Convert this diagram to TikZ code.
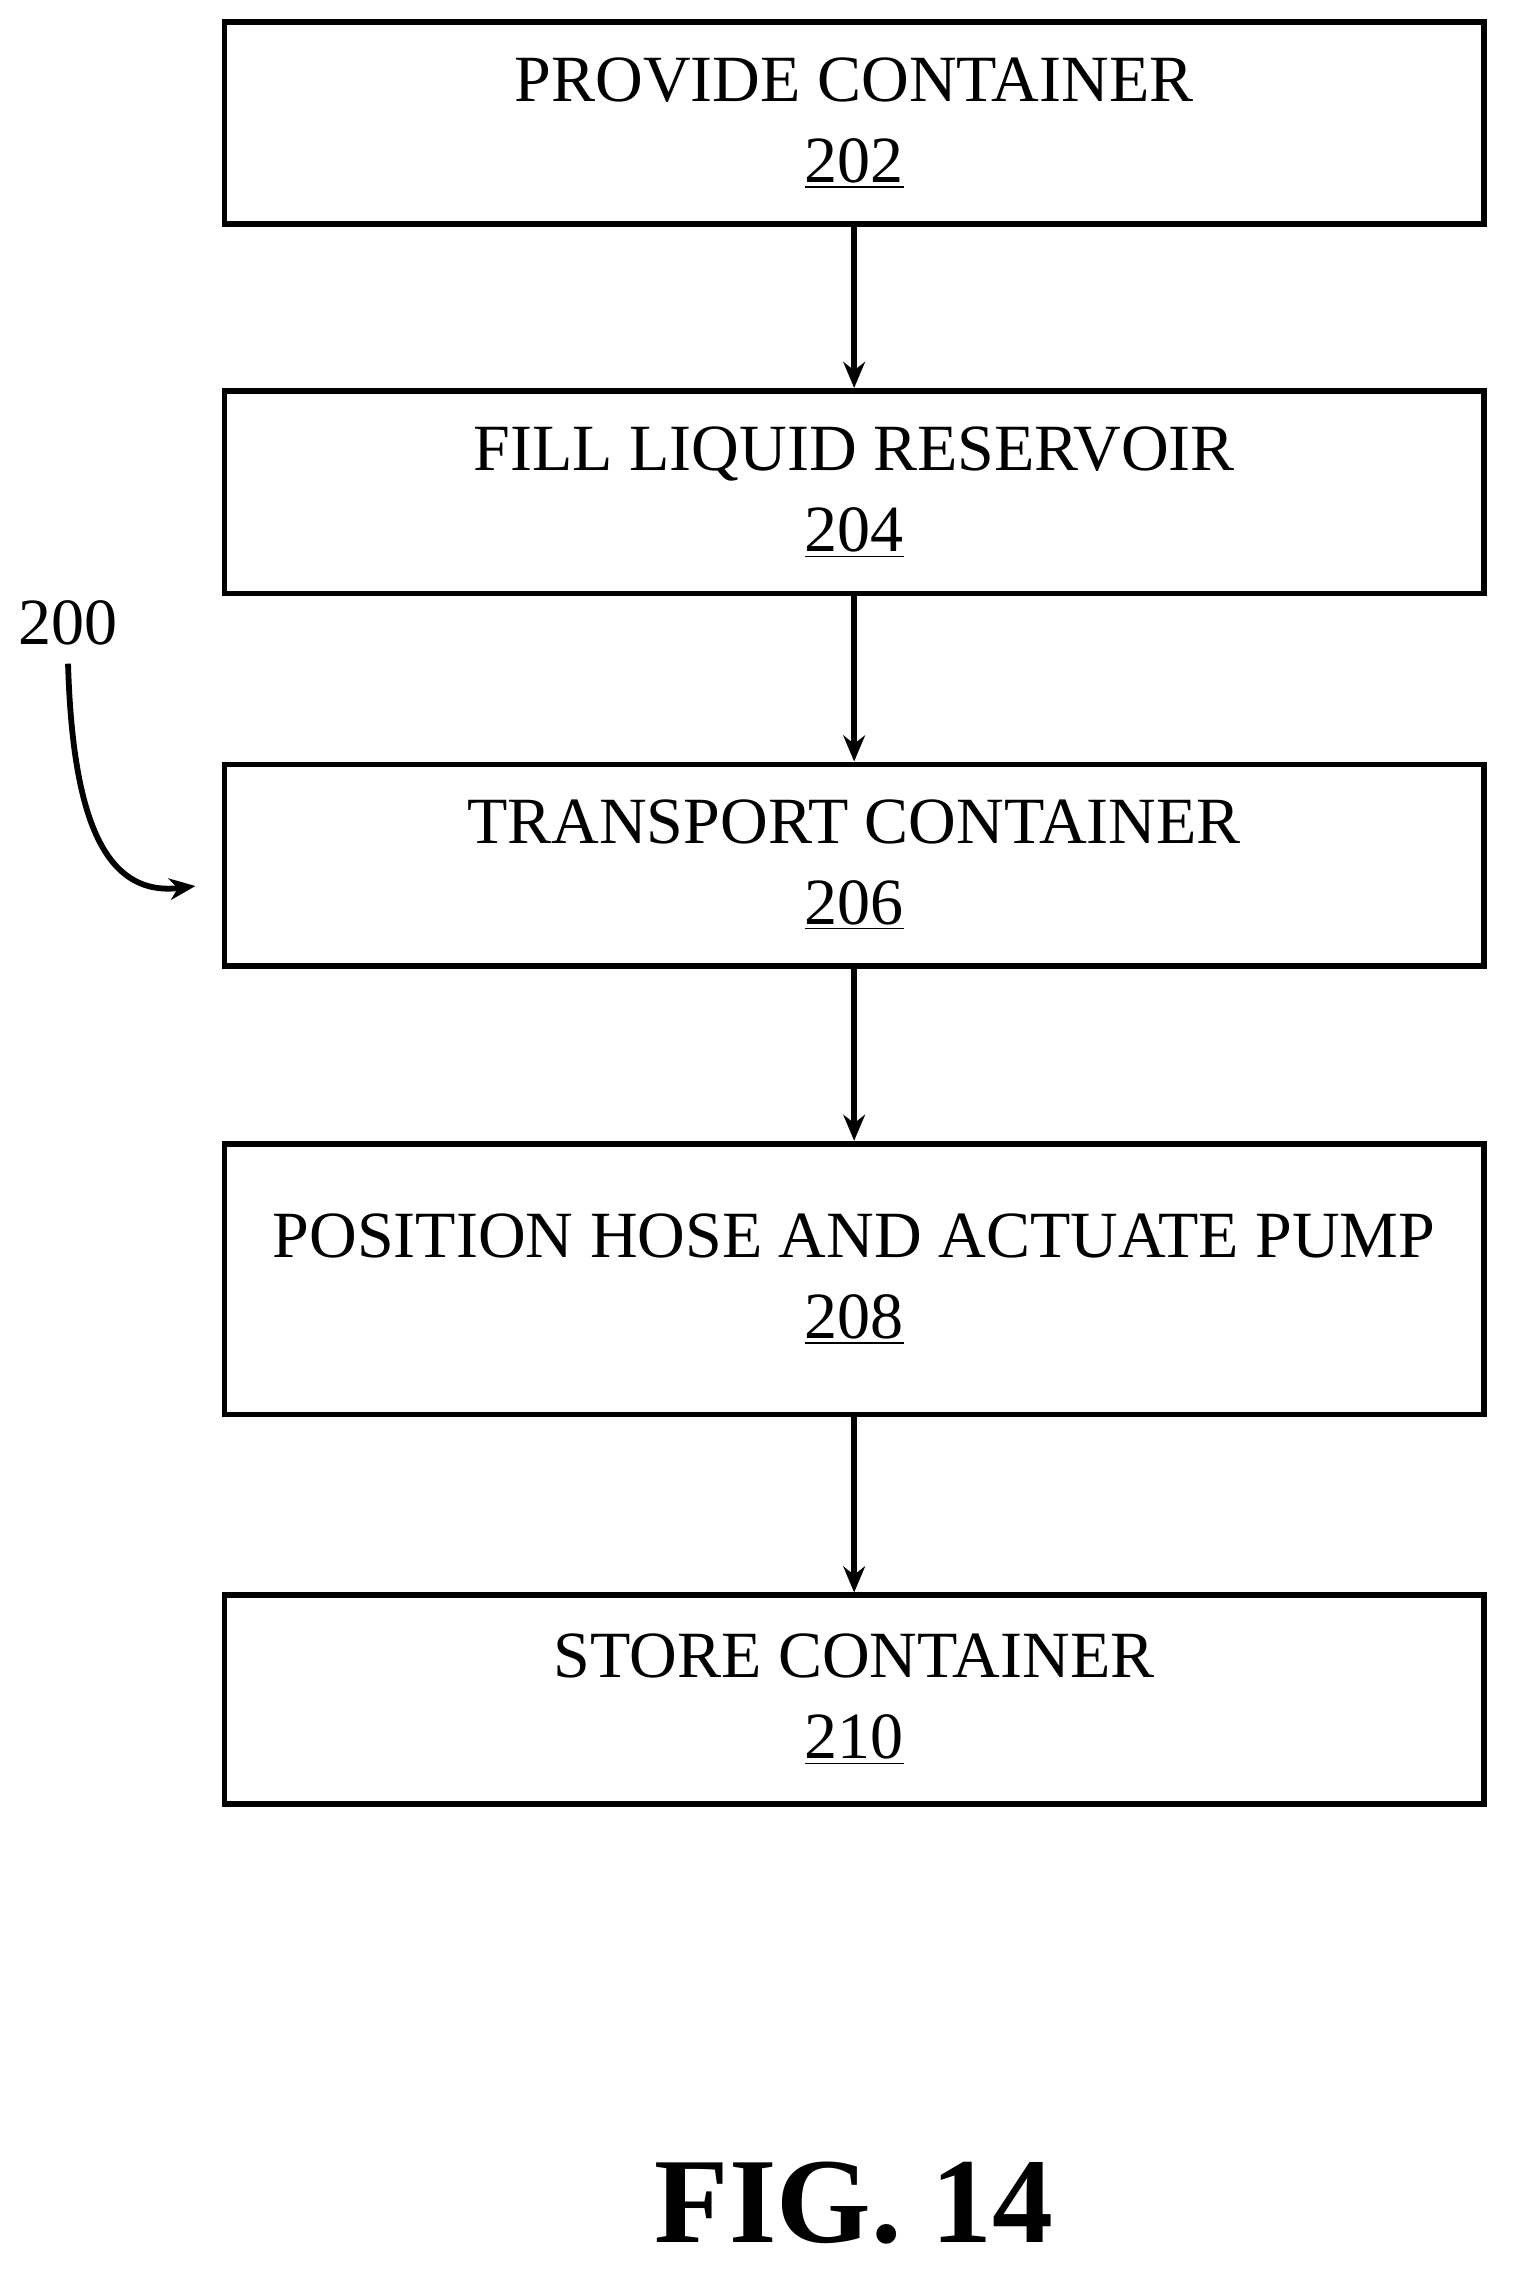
\documentclass[tikz,border=0pt]{standalone}
\usepackage{fontspec}
\setmainfont{Liberation Serif}
\usetikzlibrary{arrows.meta}
\begin{document}
\begin{tikzpicture}[x=0.5pt,y=-0.5pt,
  box/.style={draw,line width=2pt,minimum width=435pt,align=center,font=\fontsize{22.8}{28}\selectfont,inner sep=0pt},
  arr/.style={line width=2pt,-{Stealth[length=9pt,width=7.5pt]}}]
\useasboundingbox (0,0) rectangle (1045,1568);
\node[box,minimum height=70pt] (b1) at (590,85) {PROVIDE CONTAINER\\\underline{202}};
\node[box,minimum height=70pt] (b2) at (590,340) {FILL LIQUID RESERVOIR\\\underline{204}};
\node[box,minimum height=69.5pt] (b3) at (590,597.5) {TRANSPORT CONTAINER\\\underline{206}};
\node[box,minimum height=93.5pt] (b4) at (590,883.5) {POSITION HOSE AND ACTUATE PUMP\\\underline{208}};
\node[box,minimum height=72pt] (b5) at (590,1174) {STORE CONTAINER\\\underline{210}};
\draw[arr] (b1) -- (b2);
\draw[arr] (b2) -- (b3);
\draw[arr] (b3) -- (b4);
\draw[arr] (b4) -- (b5);
\node[font=\fontsize{22.8}{26}\selectfont] (l200) at (47,430) {200};
\coordinate (t) at (135,612);
\draw[arr] (l200.south) ++(0,6) .. controls (50,560) and (70,620) .. (t);
\node[font=\bfseries\fontsize{42}{48}\selectfont] (fig) at (590,1522) {FIG. 14};
\end{tikzpicture}
\end{document}
